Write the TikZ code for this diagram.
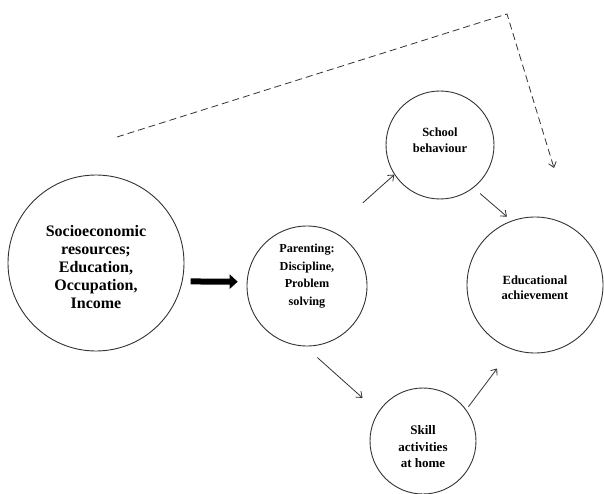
\documentclass[tikz,border=0pt]{standalone}
\usepackage{fontspec}
\setmainfont{Liberation Serif}
\usetikzlibrary{arrows.meta}

\begin{document}
\begin{tikzpicture}[x=1pt,y=-1pt,
    bubble/.style={draw=black!80,line width=0.9pt,circle,inner sep=0pt},
    words/.style={align=center,inner sep=0pt},
    link/.style={draw=black!80,line width=0.8pt,-{Straight Barb[length=5pt,width=8pt]}}]
    \useasboundingbox (0,0) rectangle (604,494);
    % circles
    \node[bubble,minimum size=176pt] (ses) at (96,263) {};
    \node[bubble,minimum size=120pt] (par) at (307,286) {};
    \node[bubble,minimum size=108pt] (sch) at (440,145) {};
    \node[bubble,minimum size=106pt] (ski) at (423,441) {};
    \node[bubble,minimum size=136pt] (edu) at (535,285) {};%
    % texts
    \node[words,font=\bfseries\fontsize{16}{18}\selectfont,yshift=-4pt] (sestext) at (ses) {Socioeconomic\\resources;\\Education,\\Occupation,\\Income};
    \node[words,font=\bfseries\fontsize{12.2}{17.5}\selectfont,yshift=10pt] (partext) at (par) {Parenting:\\Discipline,\\Problem\\solving};
    \node[words,font=\bfseries\fontsize{12.5}{15.5}\selectfont,yshift=5pt] (schtext) at (sch) {School\\behaviour};
    \node[words,font=\bfseries\fontsize{13}{16.5}\selectfont,yshift=-6pt] (skitext) at (ski) {Skill\\activities\\at home};
    \node[words,font=\bfseries\fontsize{12.5}{15}\selectfont,yshift=-3pt] (edutext) at (edu) {Educational\\achievement};%
    % arrows
    \draw[black,line width=6pt,-{Triangle[length=8pt,width=14pt]},shorten <=8pt,shorten >=9pt] (ses.-12.5) -- (par.176);
    \draw[link,shorten <=42pt] (par.66) -- (sch.213);
    \draw[link,shorten <=8.6pt,shorten >=6.2pt] (sch.-52) -- (edu.110);
    \draw[link,shorten <=16.6pt,shorten >=21pt] (par.268) -- (ski.147);
    \draw[link,shorten <=3.5pt,shorten >=24pt] (ski.36) -- (edu.250);%
    % dashed path
    \coordinate (d0) at (117,137);
    \coordinate (d1) at (507,14);
    \coordinate (d2) at (554,168);
    \draw[link,dash pattern=on 7pt off 4pt] (d0) -- (d1) -- (d2);
\end{tikzpicture}
\end{document}
